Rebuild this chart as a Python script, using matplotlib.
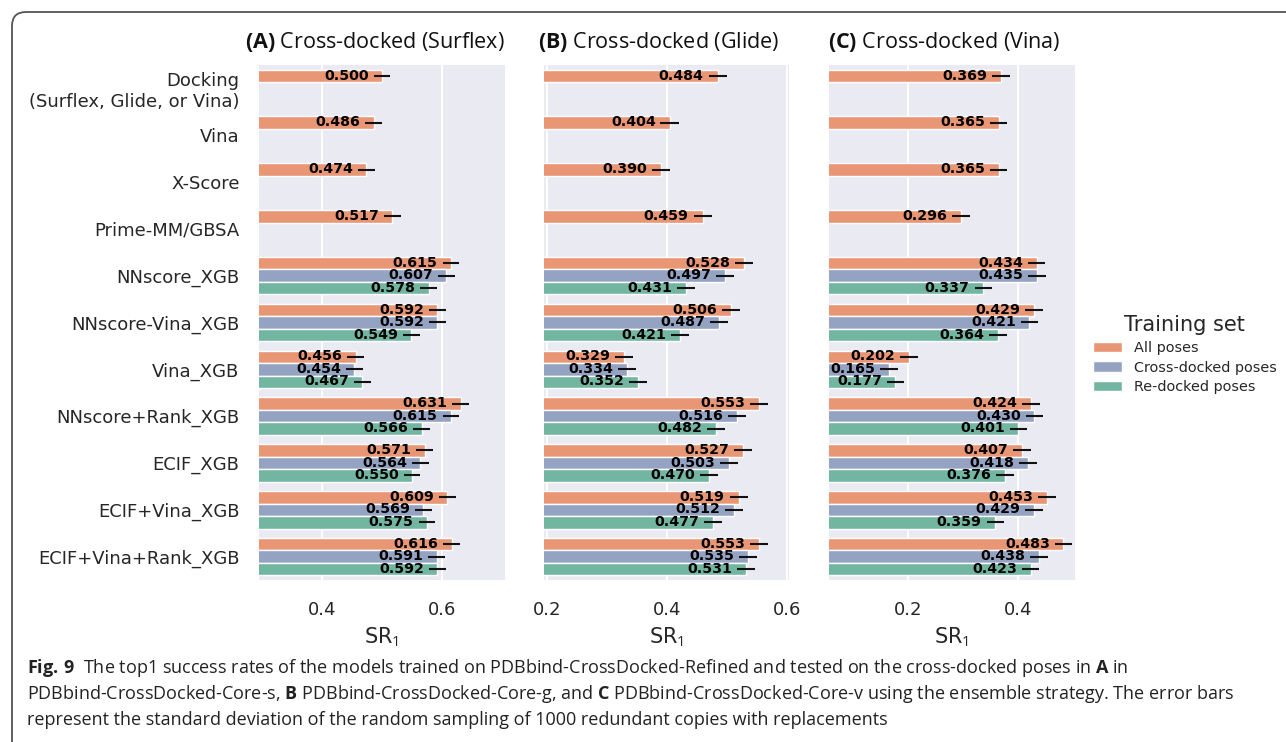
import numpy as np
import matplotlib
matplotlib.use("Agg")
import matplotlib.pyplot as plt
import seaborn as sns
from matplotlib.patches import FancyBboxPatch, Patch
from matplotlib.transforms import IdentityTransform

sns.set_theme(style="darkgrid")
plt.rcParams['font.family'] = ['DejaVu Sans']
plt.rcParams['mathtext.fontset'] = 'custom'
plt.rcParams['mathtext.rm'] = 'Open Sans'
plt.rcParams['mathtext.bf'] = 'Open Sans:bold'
plt.rcParams['mathtext.it'] = 'Open Sans:italic'

# ---------------- data ----------------
models = ["Docking\n(Surflex, Glide, or Vina)", "Vina", "X-Score", "Prime-MM/GBSA",
          "NNscore_XGB", "NNscore-Vina_XGB", "Vina_XGB", "NNscore+Rank_XGB",
          "ECIF_XGB", "ECIF+Vina_XGB", "ECIF+Vina+Rank_XGB"]
training_sets = ["All poses", "Cross-docked poses", "Re-docked poses"]
nan = np.nan

surflex_all   = [0.500, 0.486, 0.474, 0.517, 0.615, 0.592, 0.456, 0.631, 0.571, 0.609, 0.616]
surflex_cross = [nan, nan, nan, nan, 0.607, 0.592, 0.454, 0.615, 0.564, 0.569, 0.591]
surflex_re    = [nan, nan, nan, nan, 0.578, 0.549, 0.467, 0.566, 0.550, 0.575, 0.592]

glide_all   = [0.484, 0.404, 0.390, 0.459, 0.528, 0.506, 0.329, 0.553, 0.527, 0.519, 0.553]
glide_cross = [nan, nan, nan, nan, 0.497, 0.487, 0.334, 0.516, 0.503, 0.512, 0.535]
glide_re    = [nan, nan, nan, nan, 0.431, 0.421, 0.352, 0.482, 0.470, 0.477, 0.531]

vina_all   = [0.369, 0.365, 0.365, 0.296, 0.434, 0.429, 0.202, 0.424, 0.407, 0.453, 0.483]
vina_cross = [nan, nan, nan, nan, 0.435, 0.421, 0.165, 0.430, 0.418, 0.429, 0.438]
vina_re    = [nan, nan, nan, nan, 0.337, 0.364, 0.177, 0.401, 0.376, 0.359, 0.423]

# estimated standard deviations (error bars) per panel
surflex_sd = 0.014
glide_sd = 0.015
vina_sd = 0.016

panel_titles = [r"$\bf{(A)}$ Cross-docked (Surflex)",
                r"$\bf{(B)}$ Cross-docked (Glide)",
                r"$\bf{(C)}$ Cross-docked (Vina)"]
panel_xlims = [(0.295, 0.705), (0.195, 0.603), (0.056, 0.504)]
panel_xticks = [[0.4, 0.6], [0.2, 0.4, 0.6], [0.2, 0.4]]

panels = [
    ([surflex_all, surflex_cross, surflex_re], surflex_sd),
    ([glide_all, glide_cross, glide_re], glide_sd),
    ([vina_all, vina_cross, vina_re], vina_sd),
]

set2 = sns.color_palette("Set2")
colors = [sns.desaturate(set2[1], 0.75), sns.desaturate(set2[2], 0.75), sns.desaturate(set2[0], 0.75)]

# ---------------- figure ----------------
W, H = 1286, 742
fig = plt.figure(figsize=(W / 100, H / 100), dpi=100)
fig.patch.set_facecolor("white")

ax_px = [(259, 505), (544, 789), (829, 1075)]
top_px, bot_px = 65, 580

n = len(models)
bw = 0.8 / 3
offsets = [-bw, 0.0, bw]
ypos = np.arange(n)

for k, ((series, sd), (x0, x1)) in enumerate(zip(panels, ax_px)):
    ax = fig.add_axes([x0 / W, 1 - bot_px / H, (x1 - x0) / W, (bot_px - top_px) / H])
    ax.set_facecolor("#EAEAF2")
    for j, vals in enumerate(series):
        vals = np.asarray(vals, dtype=float)
        m = ~np.isnan(vals)
        yy = ypos[m] + offsets[j]
        ax.barh(yy, vals[m], height=bw, color=colors[j], edgecolor="white",
                linewidth=1.0, zorder=2)
        ax.errorbar(vals[m], yy, xerr=sd, fmt="none", ecolor="#111111",
                    elinewidth=1.5, capsize=0, zorder=3)
        for v, y in zip(vals[m], yy):
            ax.annotate(f"{v:.3f}", (v - sd, y), xytext=(-3.5, 0.3),
                        textcoords="offset points", ha="right", va="center",
                        fontsize=10.2, fontweight="bold", color="black", zorder=4)
    ax.set_xlim(*panel_xlims[k])
    ax.set_ylim(n - 0.5, -0.5)
    ax.set_xticks(panel_xticks[k])
    ax.set_xticklabels([f"{t:.1f}" for t in panel_xticks[k]])
    ax.grid(axis="y", visible=False)
    ax.grid(axis="x", color="white", linewidth=1.4)
    ax.set_axisbelow(True)
    for s in ax.spines.values():
        s.set_visible(False)
    ax.tick_params(axis="both", length=0, labelsize=13, colors="#262626")
    ax.tick_params(axis="y", pad=14)
    ax.tick_params(axis="x", pad=15)
    ax.set_yticks(ypos)
    if k == 0:
        ax.set_yticklabels(models)
    else:
        ax.set_yticklabels([])
    ax.set_xlabel("SR$_1$", fontsize=15, color="#262626", labelpad=5)
    ax.set_title(panel_titles[k], fontsize=15.5, family="Open Sans", color="#111111",
                 pad=12, x=0.47)

handles = [Patch(facecolor=c, edgecolor="white") for c in colors]
leg = fig.legend(handles, training_sets, title="Training set", loc="center left",
                 bbox_to_anchor=(0.840, 0.522), frameon=False, fontsize=10.4,
                 title_fontsize=15, labelspacing=0.4)
for t in leg.get_texts():
    t.set_color("#262626")
leg.get_title().set_color("#262626")

# caption
cap_lines = [
    r"$\bf{Fig.\,9}$  The top1 success rates of the models trained on PDBbind-CrossDocked-Refined and tested on the cross-docked poses in $\bf{A}$ in",
    r"PDBbind-CrossDocked-Core-s, $\bf{B}$ PDBbind-CrossDocked-Core-g, and $\bf{C}$ PDBbind-CrossDocked-Core-v using the ensemble strategy. The error bars",
    "represent the standard deviation of the random sampling of 1000 redundant copies with replacements",
]
for i, line in enumerate(cap_lines):
    fig.text(27 / W, 1 - (668 + 26 * i) / H, line, family="Open Sans", fontsize=13.0,
             color="#222222", ha="left", va="center")

border = FancyBboxPatch((12, -30), 1500, H - 12 + 30,
                        boxstyle="round,pad=0,rounding_size=14",
                        transform=IdentityTransform(), fill=False,
                        edgecolor="#555555", linewidth=1.3)
fig.patches.append(border)

fig.savefig("out.png", dpi=100)
